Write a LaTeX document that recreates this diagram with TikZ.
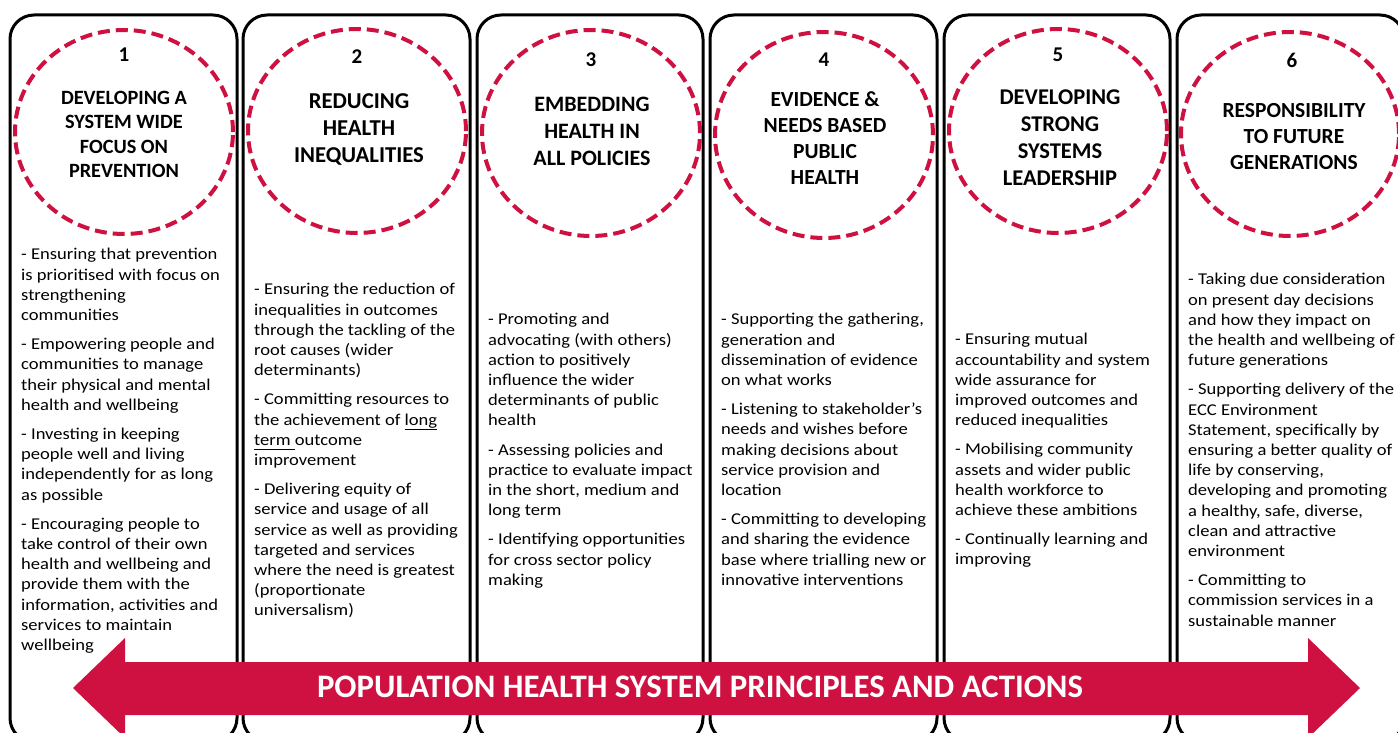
\documentclass[tikz,border=0pt]{standalone}
\usepackage{fontspec}
\setmainfont{Carlito}
\newfontfamily\bodyfont[FakeStretch=1.125]{Carlito}
\definecolor{crim}{RGB}{206,17,65}
\begin{document}
\begin{tikzpicture}[x=1pt,y=-1pt,
  colbox/.style={draw=black,line width=3pt,rounded corners=24pt},
  ring/.style={draw=crim,line width=4pt,dash pattern=on 12pt off 6pt},
  numlbl/.style={inner sep=0pt,font=\bfseries\fontsize{21}{24}\selectfont},
  ttl/.style={inner sep=0pt,anchor=north,align=center},
  body/.style={inner sep=0pt,anchor=north west,align=left,font=\bodyfont\fontsize{16.5}{20.2}\selectfont}]
\useasboundingbox (0,0) rectangle (1398,733);
\clip (0,0) rectangle (1398,733);
\fill[white] (0,0) rectangle (1398,733);
% column boxes
\draw[colbox] (10,15) rectangle (237,742);
\draw[colbox] (243,15) rectangle (470,742);
\draw[colbox] (477,15) rectangle (703,742);
\draw[colbox] (710,15) rectangle (937,742);
\draw[colbox] (944,15) rectangle (1170,742);
\draw[colbox] (1177,15) rectangle (1404,742);
% dashed rings
\draw[ring] (124,132) ellipse [x radius=109pt,y radius=102pt];
\draw[ring] (357,131) ellipse [x radius=109pt,y radius=102pt];
\draw[ring] (591,133) ellipse [x radius=109pt,y radius=103pt];
\draw[ring] (824,135) ellipse [x radius=109pt,y radius=103pt];
\draw[ring] (1058,131) ellipse [x radius=109pt,y radius=102pt];
\draw[ring] (1290,134) ellipse [x radius=109pt,y radius=102pt];
% numbers
\node[numlbl] (n1) at (124,55) {1};
\node[numlbl] (n2) at (357,57) {2};
\node[numlbl] (n3) at (591,60) {3};
\node[numlbl] (n4) at (824,60) {4};
\node[numlbl] (n5) at (1058,55) {5};
\node[numlbl] (n6) at (1292,60) {6};
% titles
\node[ttl,font=\bfseries\fontsize{20.3}{24.3}\selectfont] (t1) at (124,87.4) {\strut DEVELOPING A\\SYSTEM WIDE\\FOCUS ON\\PREVENTION};
\node[ttl,font=\bfseries\fontsize{22.7}{27}\selectfont] (t2) at (359,89.3) {\strut REDUCING\\HEALTH\\INEQUALITIES};
\node[ttl,font=\bfseries\fontsize{22}{27}\selectfont] (t3) at (592,92) {\strut EMBEDDING\\HEALTH IN\\ALL POLICIES};
\node[ttl,font=\bfseries\fontsize{21.5}{25.7}\selectfont] (t4) at (825,88.8) {\strut EVIDENCE \&\\NEEDS BASED\\PUBLIC\\HEALTH};
\node[ttl,font=\bfseries\fontsize{22.5}{27}\selectfont] (t5) at (1060,85) {\strut DEVELOPING\\STRONG\\SYSTEMS\\LEADERSHIP};
\node[ttl,font=\bfseries\fontsize{21.5}{26}\selectfont] (t6) at (1294,99.6) {\strut RESPONSIBILITY\\TO FUTURE\\GENERATIONS};
% body texts
\node[body] (b1) at (21,245.5) {\strut - Ensuring that prevention\\is prioritised with focus on\\strengthening\\communities\\[9pt]
- Empowering people and\\communities to manage\\their physical and mental\\health and wellbeing\\[9pt]
- Investing in keeping\\people well and living\\independently for as long\\as possible\\[9pt]
- Encouraging people to\\take control of their own\\health and wellbeing and\\provide them with the\\information, activities and\\services to maintain\\wellbeing};
\node[body] (b2) at (254,280.5) {\strut - Ensuring the reduction of\\inequalities in outcomes\\through the tackling of the\\root causes (wider\\determinants)\\[9pt]
- Committing resources to\\the achievement of \underline{long}\\\underline{\vphantom{g}term\ }outcome\\improvement\\[9pt]
- Delivering equity of\\service and usage of all\\service as well as providing\\targeted and services\\where the need is greatest\\(proportionate\\universalism)};
\node[body] (b3) at (488,310.5) {\strut - Promoting and\\advocating (with others)\\action to positively\\influence the wider\\determinants of public\\health\\[9pt]
- Assessing policies and\\practice to evaluate impact\\in the short, medium and\\long term\\[9pt]
- Identifying opportunities\\for cross sector policy\\making};
\node[body] (b4) at (721,310.5) {\strut - Supporting the gathering,\\generation and\\dissemination of evidence\\on what works\\[9pt]
- Listening to stakeholder’s\\needs and wishes before\\making decisions about\\service provision and\\location\\[9pt]
- Committing to developing\\and sharing the evidence\\base where trialling new or\\innovative interventions};
\node[body] (b5) at (955,330.5) {\strut - Ensuring mutual\\accountability and system\\wide assurance for\\improved outcomes and\\reduced inequalities\\[9pt]
- Mobilising community\\assets and wider public\\health workforce to\\achieve these ambitions\\[9pt]
- Continually learning and\\improving};
\node[body] (b6) at (1188,270.5) {\strut - Taking due consideration\\on present day decisions\\and how they impact on\\the health and wellbeing of\\future generations\\[9pt]
- Supporting delivery of the\\ECC Environment\\Statement, specifically by\\ensuring a better quality of\\life by conserving,\\developing and promoting\\a healthy, safe, diverse,\\clean and attractive\\environment\\[9pt]
- Committing to\\commission services in a\\sustainable manner};
% double-headed arrow
\fill[crim] (73,688) -- (125,638) -- (125,662) -- (1308,662) -- (1308,638) -- (1360,688)
  -- (1308,738) -- (1308,715) -- (125,715) -- (125,738) -- cycle;
\node[inner sep=0pt,text=white,font=\bfseries\fontsize{32.8}{36}\selectfont] (arrowlbl) at (700,687) {POPULATION HEALTH SYSTEM PRINCIPLES AND ACTIONS};
\end{tikzpicture}
\end{document}
